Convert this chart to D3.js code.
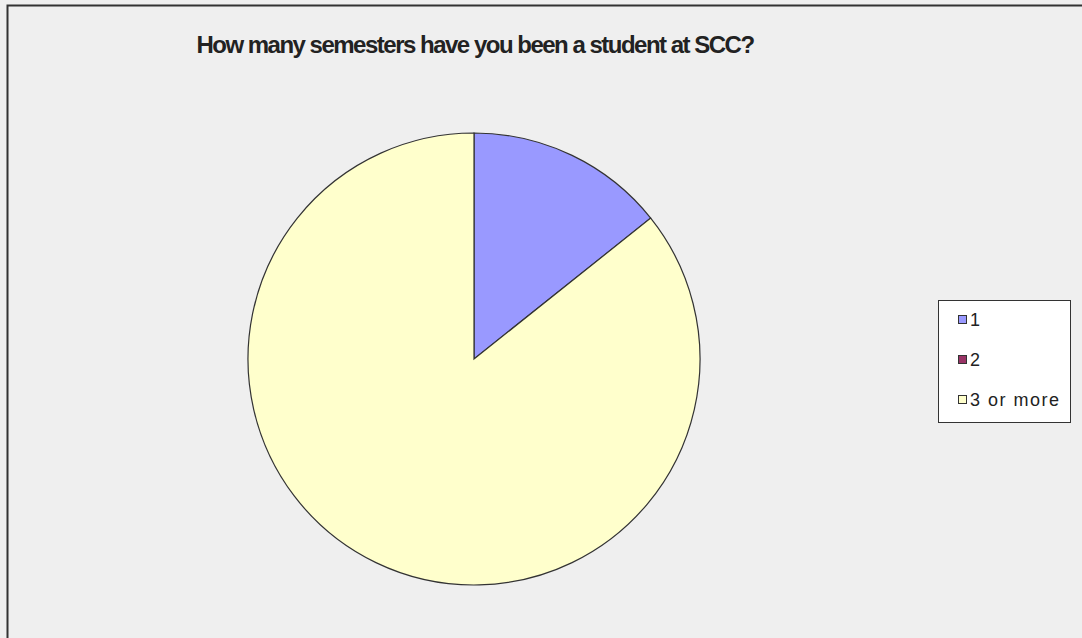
<!DOCTYPE html>
<html>
<head>
<meta charset="utf-8">
<script src="https://cdn.jsdelivr.net/npm/d3@7"></script>
<style>
  html, body { margin: 0; padding: 0; background: #efefef; }
  svg { display: block; }
</style>
</head>
<body>
<svg id="chart"></svg>
<script>
// data
const categories = ["1", "2", "3 or more"];
const counts     = [1, 0, 6];
const colors     = ["#9999ff", "#993366", "#ffffcc"];
const title      = "How many semesters have you been a student at SCC?";

const width = 1082, height = 638;

let svg = d3.select("#chart")
  .attr("width", width)
  .attr("height", height);

svg.append("rect")
  .attr("width", width)
  .attr("height", height)
  .style("fill", "#efefef");

// frame (only top and left edges show)
svg.append("path")
  .attr("d", "M7.5," + height + "V5.5H" + width)
  .style("fill", "none")
  .style("stroke", "#333")
  .style("stroke-width", 2);

svg.append("text")
  .attr("x", 475)
  .attr("y", 53)
  .style("text-anchor", "middle")
  .style("font-family", "Liberation Sans, Arial, sans-serif")
  .style("font-weight", "bold")
  .style("font-size", "24px")
  .style("letter-spacing", "-1.5px")
  .style("fill", "#222")
  .text(title);

const color = d3.scaleOrdinal().domain(categories).range(colors);

const data = categories.map((c, i) => ({name: c, value: counts[i]}));

const pie = d3.pie().sort(null).value(d => d.value);
const arc = d3.arc().innerRadius(0).outerRadius(226);

let g = svg.append("g")
  .attr("transform", "translate(474,359)");

g.selectAll("path")
  .data(pie(data).filter(d => d.data.value > 0))
  .enter().append("path")
  .attr("d", arc)
  .style("fill", d => color(d.data.name))
  .style("stroke", "#333")
  .style("stroke-width", 1.2);

// legend
let lg = svg.append("g").attr("transform", "translate(938,300)");

lg.append("rect")
  .attr("x", 0.5)
  .attr("y", 0.5)
  .attr("width", 132)
  .attr("height", 122)
  .style("fill", "#fff")
  .style("stroke", "#333")
  .style("stroke-width", 1);

let item = lg.selectAll(".legend")
  .data(categories)
  .enter().append("g")
  .attr("class", "legend")
  .attr("transform", (d, i) => "translate(0," + (20 + i * 40) + ")");

item.append("rect")
  .attr("x", 20.5)
  .attr("y", -4.5)
  .attr("width", 8)
  .attr("height", 8)
  .style("fill", d => color(d))
  .style("stroke", "#333")
  .style("stroke-width", 1);

item.append("text")
  .attr("x", 32)
  .attr("y", 0)
  .attr("dy", "0.36em")
  .style("font-family", "Liberation Sans, Arial, sans-serif")
  .style("font-size", "18px")
  .style("letter-spacing", "1.5px")
  .style("fill", "#222")
  .text(d => d);
</script>
</body>
</html>
